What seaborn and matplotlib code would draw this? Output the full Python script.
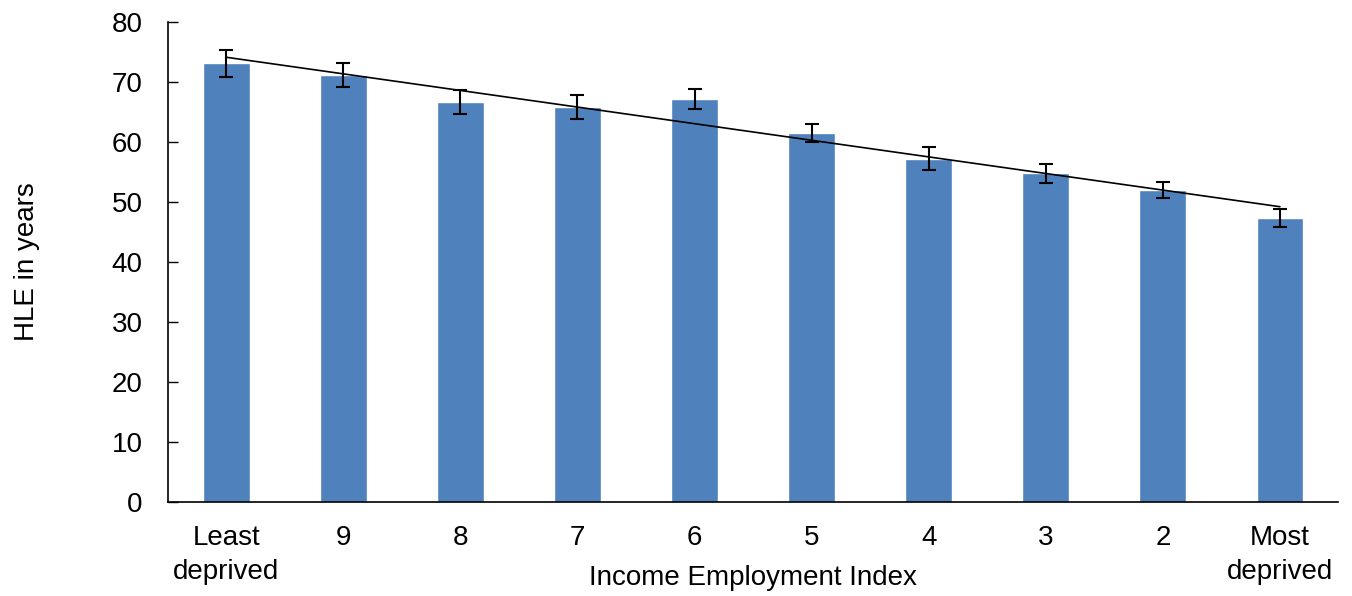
import numpy as np
import pandas as pd
import matplotlib
matplotlib.use("Agg")
import matplotlib.pyplot as plt
import seaborn as sns

categories = ["Least\ndeprived", "9", "8", "7", "6", "5", "4", "3", "2", "Most\ndeprived"]
hle = [73.1, 71.1, 66.7, 65.8, 67.2, 61.5, 57.2, 54.8, 52.0, 47.3]
err = [2.2, 2.0, 1.95, 2.0, 1.65, 1.5, 1.95, 1.6, 1.35, 1.55]

sns.set_style("white")
plt.rcParams["font.family"] = ["Liberation Sans", "DejaVu Sans"]
plt.rcParams["text.color"] = "black"
plt.rcParams["axes.labelcolor"] = "black"
plt.rcParams["xtick.color"] = "black"
plt.rcParams["ytick.color"] = "black"

df = pd.DataFrame({"cat": categories, "hle": hle})

fig, ax = plt.subplots(figsize=(13.52, 5.96), dpi=100)
fig.subplots_adjust(left=0.124, right=0.99, top=0.963, bottom=0.158)

sns.barplot(data=df, x="cat", y="hle", color="#4F81BD", width=0.4,
            saturation=1, errorbar=None, ax=ax)

x = np.arange(len(categories))
ax.errorbar(x, hle, yerr=err, fmt="none", ecolor="black", elinewidth=1.5,
            capsize=5, capthick=1.5, zorder=3)

# linear trend line
coef = np.polyfit(x, hle, 1)
ax.plot(x, np.polyval(coef, x), color="black", lw=1.2, zorder=4)

ax.set_xlim(-0.5, len(categories) - 0.5)
ax.set_ylim(0, 80)
ax.set_yticks(range(0, 81, 10))
ax.set_xticks(np.arange(-0.5, len(categories)), minor=True)
ax.tick_params(axis="x", which="major", length=0, labelsize=20, pad=17)
ax.tick_params(axis="x", which="minor", length=7, width=1, direction="out")
ax.tick_params(axis="y", length=7, width=1, direction="in", labelsize=20, left=True, pad=18)
for lab in ax.get_xticklabels():
    lab.set_linespacing(1.38)

for s in ["top", "right"]:
    ax.spines[s].set_visible(False)
for s in ["left", "bottom"]:
    ax.spines[s].set_color("black")
    ax.spines[s].set_linewidth(1.2)

ax.set_xlabel("Income Employment Index", fontsize=20, va="center")
ax.xaxis.set_label_coords(0.5, -76 / 480)
ax.set_ylabel("HLE in years", fontsize=20, va="center")
ax.yaxis.set_label_coords(-141 / 1170, 0.5)

fig.savefig("out.png", dpi=100)
